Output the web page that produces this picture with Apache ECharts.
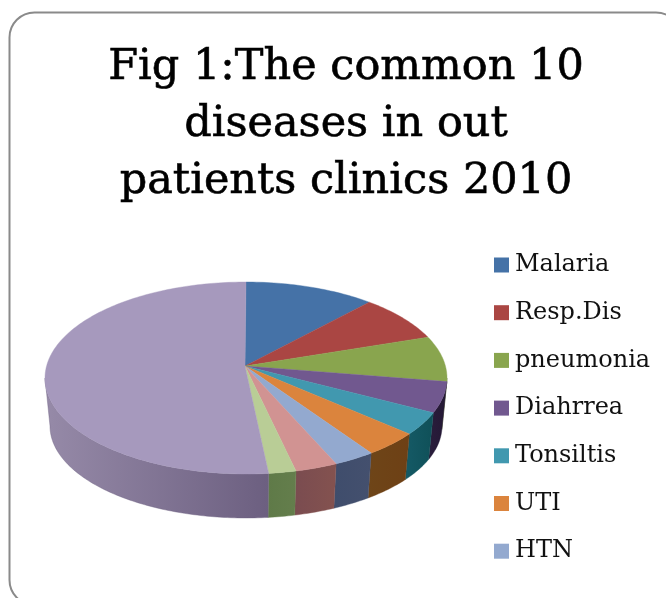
<!DOCTYPE html>
<html>
<head>
<meta charset="utf-8">
<style>
  html, body { margin: 0; padding: 0; background: #fff; }
  #chart { width: 666px; height: 598px; }
</style>
<script src="https://cdn.jsdelivr.net/npm/echarts@6/dist/echarts.min.js"></script>
</head>
<body>
<div id="chart"></div>
<script>
// the picture only names seven slices, the legend is cut off below HTN
const categories = ["Malaria", "Resp.Dis", "pneumonia", "Diahrrea", "Tonsiltis", "UTI", "HTN", "Other 8", "Other 9", "Other 10"];
const legendNames = ["Malaria", "Resp.Dis", "pneumonia", "Diahrrea", "Tonsiltis", "UTI", "HTN"];
const shares = [10.5, 7.5, 7.6, 5.3, 4.0, 4.4, 3.3, 3.4, 2.2, 51.8];

const topColors = ["#4572A7", "#AA4643", "#89A54E", "#71588F", "#4198AF", "#DB843D", "#93A9CF", "#D19392", "#B9CD96", "#A699BD"];
const sideLeft = ["#2c4a6e", "#6e2e2c", "#5a6c33", "#2a1d3c", "#155a66", "#6e4518", "#3f4d6c", "#7a4c50", "#5f7a48", "#968aa8"];
const sideRight = ["#2c4a6e", "#6e2e2c", "#5a6c33", "#241834", "#0f5058", "#6e4015", "#44506e", "#84524f", "#647e4c", "#6c5f80"];

const total = shares.reduce((a, b) => a + b, 0);
const bounds = [];
let running = 0;
shares.forEach((v) => {
  bounds.push([running, running + v]);
  running += v;
});

// pie geometry, the apex sits above the ellipse middle as in a perspective view
const top3d = { cx: 246, cy: 378, rx: 201, ry: 96, apexX: 245, apexY: 366 };
const bottom3d = { cx: 246, cy: 426, rx: 196, ry: 92 };

const rimPoint = (e, deg) => {
  const a = (deg * Math.PI) / 180;
  return [e.cx + e.rx * Math.sin(a), e.cy - e.ry * Math.cos(a)];
};

const arcPoints = (e, from, to) => {
  const pts = [];
  const steps = Math.max(2, Math.ceil(to - from));
  for (let i = 0; i <= steps; i += 1) {
    pts.push(rimPoint(e, from + ((to - from) * i) / steps));
  }
  return pts;
};

const makeRender = (idx) => (params, api) => {
  const from = (api.value(0) / total) * 360;
  const to = (api.value(1) / total) * 360;
  const children = [];
  // only the front half of the wall can be seen
  const wallFrom = Math.max(from, 90);
  const wallTo = Math.min(to, 270);
  if (wallTo > wallFrom) {
    const pts = arcPoints(top3d, wallFrom, wallTo).concat(arcPoints(bottom3d, wallFrom, wallTo).reverse());
    children.push({
      type: "polygon",
      shape: { points: pts },
      style: {
        fill: new echarts.graphic.LinearGradient(0, 0, 1, 0, [
          { offset: 0, color: sideLeft[idx] },
          { offset: 1, color: sideRight[idx] },
        ]),
        stroke: sideRight[idx],
        lineWidth: 0.4,
      },
    });
  }
  const face = [[top3d.apexX, top3d.apexY]].concat(arcPoints(top3d, from, to));
  children.push({
    type: "polygon",
    z2: 10,
    shape: { points: face },
    style: { fill: topColors[idx], stroke: topColors[idx], lineWidth: 0.4 },
  });
  return { type: "group", children };
};

const chart = echarts.init(document.getElementById("chart"), null, { renderer: "canvas" });

const option = {
  backgroundColor: "#fff",
  animation: false,
  title: {
    text: "Fig 1:The common 10\ndiseases in out\npatients clinics 2010",
    left: 341,
    top: 34,
    textAlign: "center",
    textStyle: {
      fontFamily: "DejaVu Serif",
      fontSize: 43,
      fontWeight: "normal",
      color: "#000",
      lineHeight: 57,
      textBorderColor: "#000",
      textBorderWidth: 0.6,
    },
  },
  legend: {
    data: legendNames,
    orient: "vertical",
    left: 489,
    top: 245,
    itemWidth: 15,
    itemHeight: 15,
    itemGap: 17.7,
    icon: "rect",
    textStyle: {
      fontFamily: "DejaVu Serif",
      fontSize: 24,
      color: "#111",
      padding: [0, 0, 0, 1],
      lineHeight: 30,
    },
  },
  graphic: [
    {
      type: "rect",
      z: -1,
      shape: { x: 9.5, y: 12.5, width: 671.5, height: 592.5, r: 25 },
      style: { fill: "#fff", stroke: "#8a8a8a", lineWidth: 2 },
      silent: true,
    },
  ],
  series: categories.map((name, i) => ({
    name,
    type: "custom",
    coordinateSystem: "none",
    silent: true,
    itemStyle: { color: topColors[i] },
    renderItem: makeRender(i),
    data: [bounds[i]],
  })),
};

chart.setOption(option);
</script>
</body>
</html>
